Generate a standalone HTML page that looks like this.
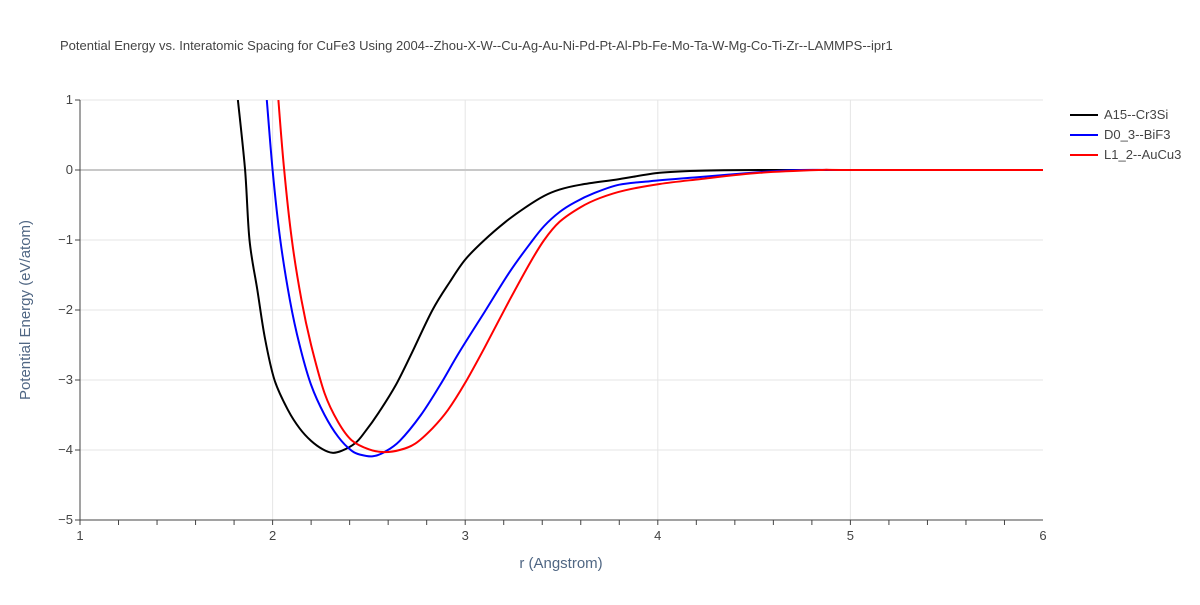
<!DOCTYPE html>
<html><head><meta charset="utf-8"><style>
body{margin:0;background:#fff;font-family:"Liberation Sans",Arial,sans-serif}
svg text{font-family:"Liberation Sans",Arial,sans-serif}
</style></head><body>
<svg id="chart" width="1200" height="600">
<rect width="1200" height="600" fill="#fff"/>
<text x="60" y="50" font-size="13" fill="#444">Potential Energy vs. Interatomic Spacing for CuFe3 Using 2004--Zhou-X-W--Cu-Ag-Au-Ni-Pd-Pt-Al-Pb-Fe-Mo-Ta-W-Mg-Co-Ti-Zr--LAMMPS--ipr1</text>
<g id="grid"></g><g id="axes"></g><g id="series"></g>
<text x="561" y="568" font-size="15" fill="#506784" text-anchor="middle">r (Angstrom)</text>
<text transform="translate(30,310) rotate(-90)" font-size="15" fill="#506784" text-anchor="middle">Potential Energy (eV/atom)</text>
<g id="legend"></g>
</svg>
<script>
const xTicks=[1,2,3,4,5,6];
const yTicks=[1,0,-1,-2,-3,-4,-5];
const seriesNames=["A15--Cr3Si","D0_3--BiF3","L1_2--AuCu3"];
const seriesColors=["#000000","#0000ff","#ff0000"];
const a15R=[1.82,1.857,1.88,1.92,1.96,2.01,2.08,2.14,2.2,2.26,2.31,2.36,2.43,2.48,2.55,2.64,2.72,2.83,2.92,3.0,3.1,3.21,3.31,3.41,3.49,3.6,3.8,4.01,4.22,4.53,5,6];
const a15E=[1.0,0,-1.0,-1.7,-2.4,-3.0,-3.43,-3.69,-3.87,-3.99,-4.04,-4.01,-3.9,-3.74,-3.47,-3.07,-2.63,-2.0,-1.6,-1.28,-1.0,-0.74,-0.54,-0.37,-0.28,-0.21,-0.13,-0.04,-0.01,0,0,0];
const d03R=[1.97,2.0,2.04,2.09,2.14,2.2,2.27,2.34,2.41,2.46,2.52,2.58,2.66,2.77,2.87,2.97,3.1,3.23,3.34,3.41,3.49,3.57,3.67,3.8,3.96,4.22,4.53,4.74,5,6];
const d03E=[1.0,0,-1,-1.86,-2.5,-3.07,-3.5,-3.81,-4.01,-4.07,-4.09,-4.03,-3.87,-3.5,-3.07,-2.6,-2.03,-1.46,-1.04,-0.8,-0.6,-0.46,-0.33,-0.21,-0.16,-0.1,-0.03,0,0,0];
const l12R=[2.03,2.06,2.1,2.15,2.2,2.27,2.34,2.41,2.5,2.58,2.66,2.74,2.83,2.91,3.0,3.1,3.23,3.34,3.41,3.49,3.6,3.7,3.83,4.01,4.22,4.53,4.84,5,6];
const l12E=[1.0,0,-1,-1.86,-2.5,-3.19,-3.6,-3.86,-3.99,-4.03,-4.0,-3.91,-3.69,-3.43,-3.04,-2.54,-1.86,-1.31,-1.0,-0.74,-0.53,-0.4,-0.29,-0.2,-0.13,-0.04,0,0,0];
const X=r=>80+(r-1)*(963/5);
const Y=e=>100+(1-e)*70;
const NS="http://www.w3.org/2000/svg";
function mk(t,p,a){const e=document.createElementNS(NS,t);for(const k in a)e.setAttribute(k,a[k]);p.appendChild(e);return e;}
const grid=document.getElementById('grid'),axes=document.getElementById('axes'),ser=document.getElementById('series'),leg=document.getElementById('legend');
xTicks.forEach(v=>{
 if(v>1&&v<6){const l=mk('line',grid,{x1:X(v),x2:X(v),y1:100,y2:520,stroke:'#e5e5e5'});
 
 }
 const t=mk('text',axes,{x:X(v),y:540,'font-size':13,fill:'#444','text-anchor':'middle'});t.textContent=v;
 
 
});
for(let v=1;v<6;v+=0.2){mk('line',axes,{x1:X(v),x2:X(v),y1:520,y2:525,stroke:'#444'});}
yTicks.forEach(v=>{
 const l=mk('line',grid,{x1:80,x2:1043,y1:Y(v),y2:Y(v),stroke:v===0?'#c8c8c8':'#e5e5e5','stroke-width':v===0?2:1});
 
 
 const t=mk('text',axes,{x:73,y:Y(v)+4,'font-size':13,fill:'#444','text-anchor':'end'});t.textContent=v<0?'\u2212'+(-v):v;
 
 
 mk('line',axes,{x1:75,x2:80,y1:Y(v),y2:Y(v),stroke:'#444'});
});
mk('line',axes,{x1:80,x2:80,y1:100,y2:520,stroke:'#444'});
mk('line',axes,{x1:80,x2:1043,y1:520,y2:520,stroke:'#444'});
function smooth(pts){
 let d='M'+pts[0][0].toFixed(1)+','+pts[0][1].toFixed(1);
 for(let i=0;i<pts.length-1;i++){
  const p0=pts[Math.max(0,i-1)],p1=pts[i],p2=pts[i+1],p3=pts[Math.min(pts.length-1,i+2)];
  const c1=[p1[0]+(p2[0]-p0[0])/6,p1[1]+(p2[1]-p0[1])/6];
  const c2=[p2[0]-(p3[0]-p1[0])/6,p2[1]-(p3[1]-p1[1])/6];
  d+=' C'+c1[0].toFixed(1)+','+c1[1].toFixed(1)+' '+c2[0].toFixed(1)+','+c2[1].toFixed(1)+' '+p2[0].toFixed(1)+','+p2[1].toFixed(1);
 }
 return d;
}
const data=[[a15R,a15E],[d03R,d03E],[l12R,l12E]];
const clip=mk('clipPath',ser,{id:'cp'});mk('rect',clip,{x:80,y:100,width:963,height:420});
data.forEach((d,i)=>{
 const pts=d[0].map((r,j)=>[X(r),Y(d[1][j])]);
 const p=mk('path',ser,{d:smooth(pts),fill:'none',stroke:seriesColors[i],'stroke-width':2,'clip-path':'url(#cp)','stroke-linejoin':'round'});
 
 
 const y=115+i*20;
 const g=mk('g',leg,{});
 
 
 mk('line',g,{x1:1070,x2:1098,y1:y,y2:y,stroke:seriesColors[i],'stroke-width':2});
 const t=mk('text',g,{x:1104,y:y+4,'font-size':13,fill:'#444'});t.textContent=seriesNames[i];
});
</script>
</body></html>
